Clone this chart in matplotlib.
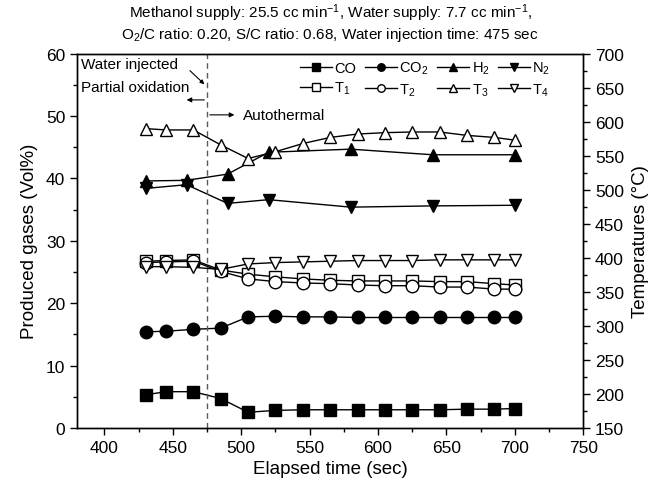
import matplotlib
matplotlib.use('Agg')
from matplotlib import pyplot as plt
from matplotlib.ticker import MultipleLocator

plt.rcParams['font.family'] = ['Liberation Sans', 'DejaVu Sans']
plt.rcParams['mathtext.fontset'] = 'custom'
plt.rcParams['mathtext.rm'] = 'Liberation Sans'
plt.rcParams['mathtext.it'] = 'Liberation Sans:italic'
plt.rcParams['mathtext.default'] = 'regular'

# elapsed time (sec)
time = [430, 445, 465, 485, 505, 525, 545, 565, 585, 605, 625, 645, 665, 685, 700]
time_hn = [430, 460, 490, 520, 580, 640, 700]

# produced gases (Vol%)
co = [5.3, 5.8, 5.8, 4.7, 2.5, 2.8, 2.9, 2.9, 2.9, 2.9, 2.9, 2.9, 3.0, 3.0, 3.1]
co2 = [15.4, 15.5, 15.8, 16.0, 17.8, 17.9, 17.8, 17.8, 17.7, 17.7, 17.7, 17.7, 17.7, 17.7, 17.7]
h2 = [39.6, 39.7, 40.7, 44.2, 44.7, 43.8, 43.8]
n2 = [38.4, 39.0, 36.0, 36.6, 35.4, 35.6, 35.7]

# temperatures (C)
t1 = [395, 396, 397, 382, 376, 372, 369, 367, 366, 366, 366, 365, 365, 362, 360]
t2 = [393, 394, 395, 380, 369, 365, 363, 362, 360, 359, 359, 357, 357, 354, 354]
t3 = [590, 588, 588, 566, 546, 556, 568, 577, 582, 584, 585, 585, 580, 577, 573]
t4 = [387, 387, 386, 383, 391, 393, 394, 395, 396, 396, 396, 397, 397, 397, 397]

title = ('Methanol supply: 25.5 cc min$^{-1}$, Water supply: 7.7 cc min$^{-1}$,\n'
         'O$_2$/C ratio: 0.20, S/C ratio: 0.68, Water injection time: 475 sec')

fig = plt.figure(figsize=(6.65, 4.89), dpi=100)
ax = fig.add_axes([0.116, 0.123, 0.761, 0.765])
ax2 = ax.twinx()

ms = 9
kw = dict(color='k', lw=1, mec='k', mew=1, ms=ms)
l_co, = ax.plot(time, co, marker='s', mfc='k', label='CO', **kw)
l_co2, = ax.plot(time, co2, marker='o', mfc='k', label='CO$_2$', **kw)
l_h2, = ax.plot(time_hn, h2, marker='^', mfc='k', label='H$_2$', **kw)
l_n2, = ax.plot(time_hn, n2, marker='v', mfc='k', label='N$_2$', **kw)

l_t1, = ax2.plot(time, t1, marker='s', mfc='w', label='T$_1$', **kw)
l_t2, = ax2.plot(time, t2, marker='o', mfc='w', label='T$_2$', **kw)
l_t3, = ax2.plot(time, t3, marker='^', mfc='w', label='T$_3$', **kw)
l_t4, = ax2.plot(time, t4, marker='v', mfc='w', label='T$_4$', **kw)

ax.set_xlim(380, 750)
ax.set_ylim(0, 60)
ax2.set_ylim(150, 700)
ax.xaxis.set_major_locator(MultipleLocator(50))
ax.xaxis.set_minor_locator(MultipleLocator(25))
ax.yaxis.set_major_locator(MultipleLocator(10))
ax.yaxis.set_minor_locator(MultipleLocator(5))
ax2.yaxis.set_major_locator(MultipleLocator(50))
ax2.yaxis.set_minor_locator(MultipleLocator(25))
for a in (ax, ax2):
    a.tick_params(which='major', direction='out', length=5, width=1, labelsize=12.5)
    a.tick_params(which='minor', direction='out', length=3, width=1)
    for s in a.spines.values():
        s.set_linewidth(1)

ax.set_xlabel('Elapsed time (sec)', fontsize=13.5, labelpad=4)
ax.set_ylabel('Produced gases (Vol%)', fontsize=13.5, labelpad=6)
ax2.set_ylabel('Temperatures (\u00b0C)', fontsize=13.5, labelpad=6)
ax.set_title(title, fontsize=11, pad=11, linespacing=1.2)

# water injection marker and regime labels
ax.axvline(475, color='0.35', ls='--', lw=1, dashes=(4, 3))
ax.text(383, 58.3, 'Water injected', va='center', fontsize=11)
ax.annotate('', xy=(474.5, 54.8), xytext=(461, 57.6),
            arrowprops=dict(arrowstyle='-|>', lw=0.8, color='k', mutation_scale=6))
ax.text(383, 54.6, 'Partial oxidation', va='center', fontsize=11)
ax.annotate('', xy=(458, 52.6), xytext=(475, 52.6),
            arrowprops=dict(arrowstyle='-|>', lw=0.8, color='k', mutation_scale=7))
ax.annotate('', xy=(497, 50.2), xytext=(475, 50.2),
            arrowprops=dict(arrowstyle='-|>', lw=0.8, color='k', mutation_scale=7))
ax.text(501, 50.2, 'Autothermal', va='center', fontsize=11)

handles = [l_co, l_t1, l_co2, l_t2, l_h2, l_t3, l_n2, l_t4]
ax2.legend(handles=handles, ncol=4, loc='upper right', bbox_to_anchor=(0.935, 0.984),
           frameon=False, fontsize=10.5, markerscale=0.6, handlelength=2.2,
           handletextpad=0.15, columnspacing=0.6, labelspacing=0.35, borderaxespad=0,
           borderpad=0)

fig.savefig('out.png', dpi=100)
